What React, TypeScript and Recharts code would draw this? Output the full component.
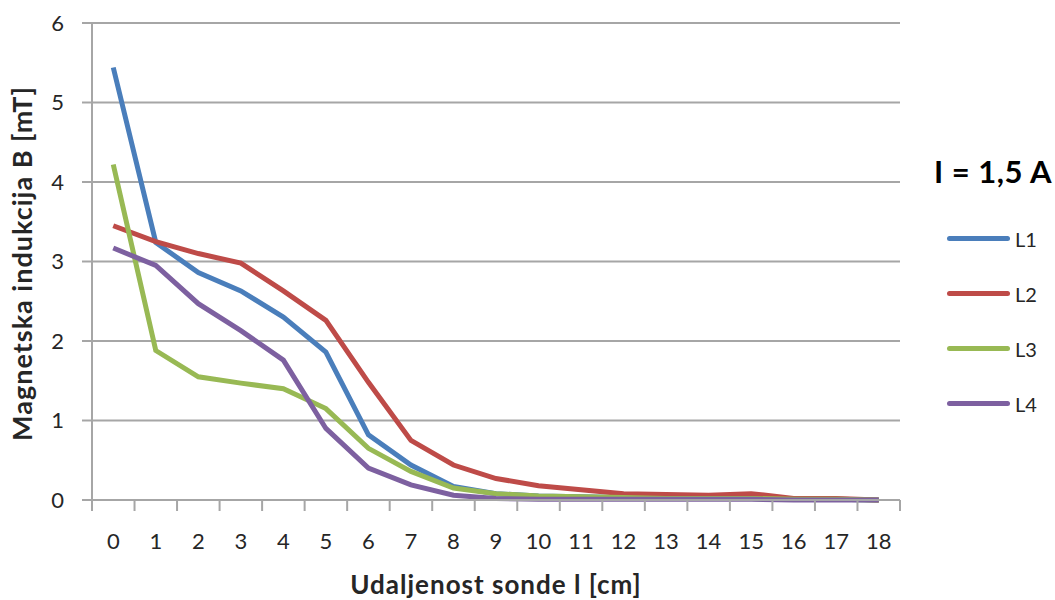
import { CartesianGrid, Label, Line, LineChart, XAxis, YAxis } from "recharts";

const distances = [0, 1, 2, 3, 4, 5, 6, 7, 8, 9, 10, 11, 12, 13, 14, 15, 16, 17, 18];
const l1 = [5.44, 3.24, 2.86, 2.63, 2.3, 1.86, 0.82, 0.44, 0.17, 0.08, 0.05, 0.04, 0.03, 0.02, 0.02, 0.02, 0.01, 0.01, 0];
const l2 = [3.45, 3.25, 3.1, 2.98, 2.63, 2.26, 1.48, 0.75, 0.44, 0.27, 0.18, 0.13, 0.08, 0.07, 0.06, 0.08, 0.02, 0.02, 0];
const l3 = [4.22, 1.88, 1.55, 1.47, 1.4, 1.15, 0.65, 0.36, 0.15, 0.08, 0.05, 0.04, 0.03, 0.02, 0.02, 0.02, 0.01, 0.01, 0];
const l4 = [3.17, 2.95, 2.47, 2.13, 1.76, 0.9, 0.4, 0.19, 0.06, 0.02, 0.01, 0.01, 0.01, 0.01, 0.01, 0.01, 0, 0, 0];
const yTicks = [0, 1, 2, 3, 4, 5, 6];

const series = [
  { key: "L1", values: l1, color: "#4a7ebb" },
  { key: "L2", values: l2, color: "#be4b48" },
  { key: "L3", values: l3, color: "#98b954" },
  { key: "L4", values: l4, color: "#7d60a0" },
];

const data = distances.map((d, i) => {
  const row: Record<string, number> = { x: d };
  series.forEach((s) => (row[s.key] = s.values[i]));
  return row;
});

const W = 1055;
const H = 600;
const margin = { top: 23, right: 155, bottom: 0, left: 0 };
const yAxisWidth = 92;
const plotWidth = W - margin.left - margin.right - yAxisWidth;
const step = plotWidth / distances.length;
const font = "Lato, 'Open Sans', sans-serif";
const text = "#262626";
const gray = "#a6a6a6";

function XTick(props: any) {
  const { x, y, payload, index } = props;
  const last = index === distances.length - 1;
  return (
    <g>
      <line x1={x - step / 2} x2={x - step / 2} y1={y} y2={y + 11} stroke={gray} strokeWidth={2} />
      {last && <line x1={x + step / 2} x2={x + step / 2} y1={y} y2={y + 11} stroke={gray} strokeWidth={2} />}
      <text x={x} y={y + 49} textAnchor="middle" fontSize={22} fontFamily={font} fill={text}>
        {payload.value}
      </text>
    </g>
  );
}

export default function App() {
  return (
    <div style={{ position: "absolute", left: 0, top: 0, width: W, height: H, background: "#fff" }}>
      <LineChart width={W} height={H} data={data} margin={margin}>
        <CartesianGrid vertical={false} stroke={gray} strokeWidth={2} />
        <XAxis
          dataKey="x"
          type="number"
          domain={[-0.5, 18.5]}
          ticks={distances}
          interval={0}
          height={100}
          tickSize={0}
          tickMargin={0}
          tickLine={false}
          axisLine={{ stroke: gray, strokeWidth: 2 }}
          tick={<XTick />}
        >
          <Label
            content={({ viewBox }: any) => (
              <text
                x={viewBox.x + viewBox.width / 2}
                y={594}
                textAnchor="middle"
                fontSize={26}
                fontWeight="bold"
                letterSpacing={1}
                fontFamily={font}
                fill={text}
              >
                Udaljenost sonde l [cm]
              </text>
            )}
          />
        </XAxis>
        <YAxis
          domain={[0, 6]}
          ticks={yTicks}
          width={yAxisWidth}
          tickSize={10}
          tickMargin={18}
          tickLine={{ stroke: gray, strokeWidth: 2 }}
          axisLine={{ stroke: gray, strokeWidth: 2 }}
          tick={{ fontSize: 22, fontFamily: font, fill: text }}
        >
          <Label
            content={({ viewBox }: any) => {
              const cx = 32;
              const cy = viewBox.y + viewBox.height / 2 + 2;
              return (
                <text
                  x={cx}
                  y={cy}
                  transform={`rotate(-90, ${cx}, ${cy})`}
                  textAnchor="middle"
                  fontSize={27}
                  fontWeight="bold"
                  letterSpacing={1}
                  fontFamily={font}
                  fill={text}
                >
                  Magnetska indukcija B [mT]
                </text>
              );
            }}
          />
        </YAxis>
        {series.map((s) => (
          <Line
            key={s.key}
            dataKey={s.key}
            stroke={s.color}
            strokeWidth={5}
            dot={false}
            activeDot={false}
            isAnimationActive={false}
          />
        ))}
      </LineChart>
      <div style={{ position: "absolute", left: 934, top: 150, fontFamily: font, color: text }}>
        <div style={{ fontSize: 31, fontWeight: "bold", lineHeight: "42px", letterSpacing: 0.5, color: "#000" }}>
          I = 1,5 A
        </div>
        <div style={{ marginTop: 19 }}>
          {series.map((s) => (
            <div key={s.key} style={{ display: "flex", alignItems: "center", height: 55 }}>
              <span style={{ display: "inline-block", marginLeft: 13, width: 63, height: 5, borderRadius: 3, background: s.color }} />
              <span style={{ marginLeft: 5, fontSize: 20 }}>{s.key}</span>
            </div>
          ))}
        </div>
      </div>
    </div>
  );
}
